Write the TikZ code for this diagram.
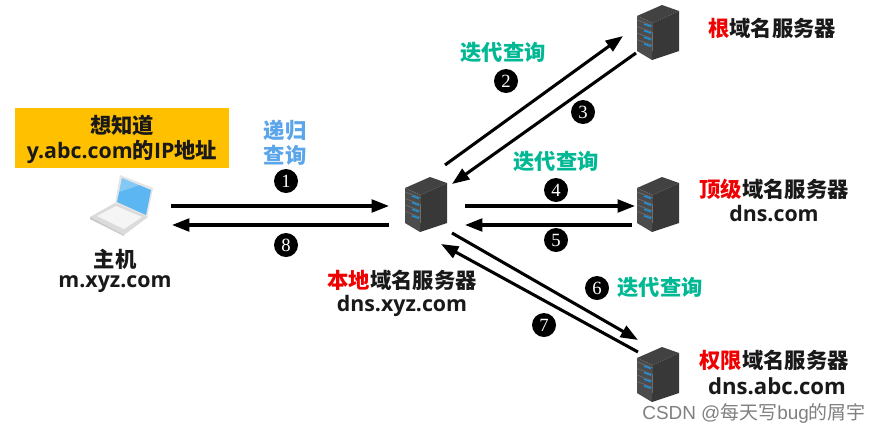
\documentclass[tikz,border=0pt]{standalone}
\usepackage{fontspec}
\setmainfont{Open Sans}
\newfontfamily\cjk{Noto Sans CJK SC}
\newfontfamily\digitfont{Liberation Serif}
\usetikzlibrary{arrows.meta}
\definecolor{teal1}{HTML}{00B894}
\definecolor{blue1}{HTML}{5BA5EA}
\definecolor{amber}{HTML}{FFC000}
\definecolor{redk}{HTML}{F00000}
\definecolor{screenblue}{HTML}{5CB6F2}
\definecolor{lightsblue}{HTML}{1E90D8}
\newcommand{\zh}[1]{{\cjk #1}}
\tikzset{
  x=0.75pt,y=-0.75pt,
  lbl/.style={font=\fontsize{16pt}{18pt}\selectfont\bfseries,inner sep=0pt,align=center,text=black!90},
  iter/.style={lbl,text=teal1},
  recur/.style={lbl,text=blue1},
  num/.style={circle,fill=black,text=white,minimum size=18pt,inner sep=0pt,font=\digitfont\fontsize{14pt}{14pt}\selectfont},
  link/.style={line width=2.3pt,-{Triangle[length=13pt,width=9.5pt]},black},
  srvbox/.style={minimum width=32pt,minimum height=42pt,inner sep=0pt},
  srv/.pic={
    \fill[black!74] (-21,-17) -- (4,-28) -- (21,-22) -- (-5,-10) -- cycle;
    \fill[black!78] (-5,-10) -- (21,-22) -- (21,18) -- (-6,27) -- cycle;
    \fill[black!70] (-21,-17) -- (-5,-10) -- (-6,27) -- (-21,18) -- cycle;
    \foreach \yy in {0,1,2,3}{
      \draw[black!55,line width=.4pt] (-21,{-13+\yy*6.5}) -- (-5,{-7+\yy*6.5});
      \draw[lightsblue,line width=1.2pt] (-14,{-9+\yy*6.6}) -- (-7,{-6.5+\yy*6.6});
    }
  }
}
\begin{document}
\begin{tikzpicture}
\useasboundingbox (0,0) rectangle (880,433);
\fill[white] (0,0) rectangle (880,433);

% note box
\node[fill=amber,minimum width=160.5pt,minimum height=44.5pt,inner sep=0pt,anchor=north west] (note) at (15,108) {};
\node[lbl] (t1) at (122,125) {\zh{想知道}};
\node[lbl] (t2) at (122,152) {y.abc.com\zh{的}IP\zh{地址}};

% laptop
\node[minimum width=48pt,minimum height=46pt,inner sep=0pt] (host) at (122,205) {};
\fill[black!10] (120,175) -- (153,188) -- (147,218) -- (115,204) -- cycle;
\fill[screenblue] (122,178) -- (151,190) -- (146,215) -- (117,202) -- cycle;
\fill[white,opacity=.25] (122,178) -- (140,185) -- (119,192) -- cycle;
\fill[black!14] (90,217) -- (115,203) -- (148,217) -- (124,235) -- cycle;
\fill[black!4] (97,216) -- (116,206) -- (142,217) -- (124,229) -- cycle;
\fill[black!22] (90,217) -- (124,235) -- (124,236) -- (90,219) -- cycle;

% servers
\node[srvbox] (local) at (426,205) {};
\node[srvbox] (root) at (658,33) {};
\node[srvbox] (tld) at (658,205) {};
\node[srvbox] (auth) at (658,375) {};
\pic at (426,205) {srv};
\pic at (658,33) {srv};
\pic at (658,205) {srv};
\pic at (658,375) {srv};

% connector ends
\coordinate (h1) at (171,206); \coordinate (l1) at (389,206);
\coordinate (l8) at (389,225); \coordinate (h8) at (172,225);
\coordinate (l2) at (445,165); \coordinate (r2) at (623,36);
\coordinate (r3) at (636,53);  \coordinate (l3) at (452,184);
\coordinate (l4) at (465,206); \coordinate (t4) at (635,206);
\coordinate (t5) at (632,225); \coordinate (l5) at (465,225);
\coordinate (l6) at (452,233); \coordinate (a6) at (638,340);
\coordinate (a7) at (638,352); \coordinate (l7) at (441,244);

\draw[link] (h1) -- (l1);
\draw[link] (l8) -- (h8);
\draw[link] (l2) -- (r2);
\draw[link] (r3) -- (l3);
\draw[link] (l4) -- (t4);
\draw[link] (t5) -- (l5);
\draw[link] (l6) -- (a6);
\draw[link] (a7) -- (l7);

% step numbers
\node[num] (n1) at (286,181) {1};
\node[num] (n8) at (286,245) {8};
\node[num] (n2) at (506,81) {2};
\node[num] (n3) at (583,112) {3};
\node[num] (n4) at (556,190) {4};
\node[num] (n5) at (556,240) {5};
\node[num] (n6) at (597,288) {6};
\node[num] (n7) at (544,325) {7};

% query labels
\node[recur] (q1a) at (285,130) {\zh{递归}};
\node[recur] (q1b) at (285,155) {\zh{查询}};
\node[iter] (q2) at (503,52) {\zh{迭代查询}};
\node[iter] (q3) at (556,161) {\zh{迭代查询}};
\node[iter] (q4) at (660,287) {\zh{迭代查询}};

% names
\node[lbl] (hn1) at (115,259) {\zh{主机}};
\node[lbl] (hn2) at (115,284) {m.xyz.com};
\node[lbl] (ln1) at (402,280) {\zh{\textcolor{redk}{本地}域名服务器}};
\node[lbl] (ln2) at (402,306) {dns.xyz.com};
\node[lbl] (rn1) at (772,28) {\zh{\textcolor{redk}{根}域名服务器}};
\node[lbl] (tn1) at (774,189) {\zh{\textcolor{redk}{顶级}域名服务器}};
\node[lbl] (tn2) at (774,214) {dns.com};
\node[lbl] (an1) at (774,360) {\zh{\textcolor{redk}{权限}域名服务器}};
\node[lbl,font=\fontsize{16.6pt}{18pt}\selectfont\bfseries] (an2) at (777,386) {dns.abc.com};

% watermark
\node[inner sep=0pt,text=black!50,font=\fontsize{14.2pt}{16pt}\selectfont] (wm) at (754,413) {\fontspec{Liberation Sans}CSDN @\zh{每天写}bug\zh{的屑宇}};
\end{tikzpicture}
\end{document}
